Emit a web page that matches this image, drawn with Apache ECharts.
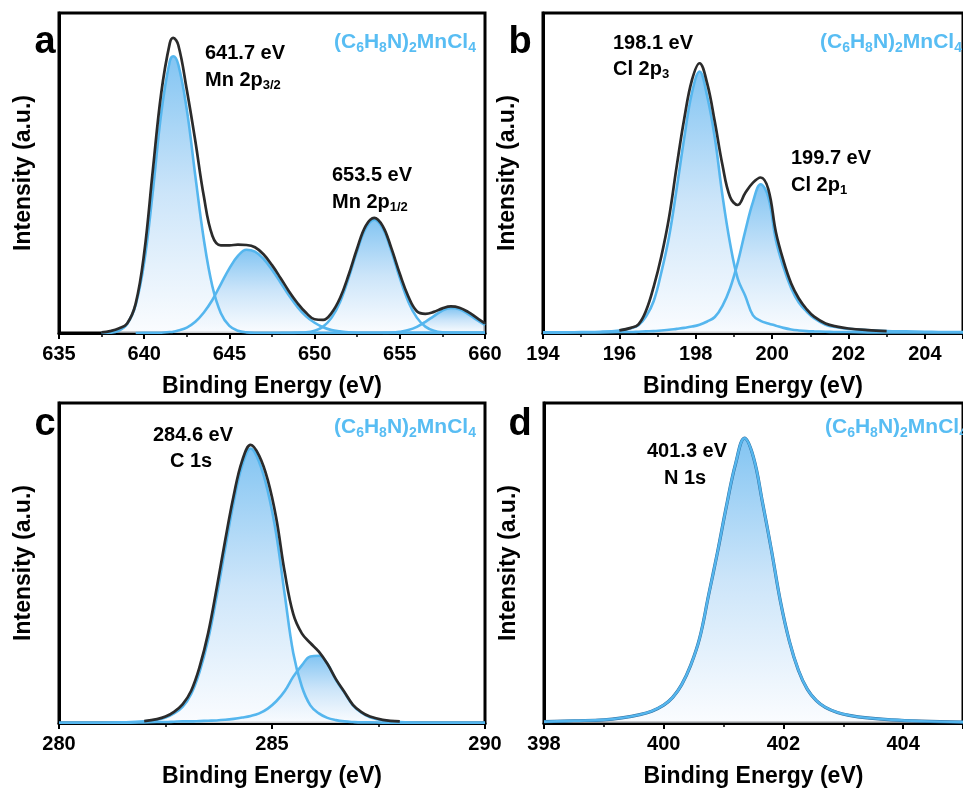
<!DOCTYPE html>
<html><head><meta charset="utf-8">
<script src="https://cdn.jsdelivr.net/npm/echarts@6/dist/echarts.min.js"></script>
<style>html,body{margin:0;padding:0;background:#fff}#c{width:963px;height:791px}</style>
</head><body><div id="c"></div>
<script>
// ---------- Panel a : Mn 2p ----------
const aX   = [637.5,638,638.5,639,639.5,640,640.5,641,641.5,641.7,642,642.5,643,643.5,644,644.5,645,645.5,646,646.5,647,647.5,648,648.5,649,649.5,650,650.5,651,651.5,652,652.5,653,653.5,654,654.5,655,655.5,656,656.5,657,657.5,658,658.5,659,659.5,660];
const aMn1 = [0,0.1,0.7,2.8,8.8,22.1,43.9,68.7,84.9,86.5,83.9,69.8,49.1,29.2,14.6,6.2,2.2,0.7,0.2,0.1,0.1,0.1,0.1,0.1,0.1,0.1,0.1,0.1,0.1,0.1,0.1,0.1,0.1,0.1,0.1,0.1,0.1,0.1,0.1,0.1,0.1,0.1,0.1,0.1,0.1,0.1,0.1];
const aSat1= [null,null,null,null,0,0.1,0.1,0.1,0.3,0.4,0.8,1.7,3.5,6.4,10.3,15.3,20.2,24.1,26.0,25.4,23.2,19.8,15.8,11.7,8.1,5.2,3.2,1.8,0.9,0.5,0.2,0.1,0.1,0.1,0.1,0.1,0.1,0.1,0.1,0.1,0.1,0.1,0.1,0.1,0.1,0.1,0.1];
const aMn2 = [null,null,null,null,null,null,null,null,null,null,null,null,null,null,null,null,null,null,null,null,null,null,0,0,0.1,0.2,0.7,2.0,4.8,9.8,17.2,25.7,32.7,35.4,32.7,25.7,17.2,9.8,4.8,2.0,0.7,0.2,0.1,0.1,0.1,0.1,0.1];
const aSat2= [null,null,null,null,null,null,null,null,null,null,null,null,null,null,null,null,null,null,null,null,null,null,null,null,null,null,null,null,null,null,null,null,null,null,0,0.1,0.4,0.9,1.9,3.5,5.3,7.0,7.8,7.4,6.0,4.2,2.5];
const aEnv = [0.2,0.6,1.4,3.0,9.2,25,50.5,75,90.5,92.2,90,76,60,42.7,30.4,27.4,27.4,27.6,27.5,26.8,24.6,21.2,17.2,13.0,9.3,6.3,4.3,4.1,6.3,11.0,18.2,26.5,33.5,36.0,33.4,26.6,18.5,11.4,6.8,6.0,6.6,7.7,8.3,7.9,6.6,4.8,3.0];

// ---------- Panel b : Cl 2p ----------
const bX   = [194,194.5,195,195.5,196,196.3,196.5,196.7,196.9,197.1,197.3,197.5,197.7,197.9,198.1,198.3,198.5,198.7,198.9,199.1,199.3,199.5,199.7,199.9,200.1,200.3,200.5,200.7,200.9,201.1,201.4,201.7,202,202.5,203,203.5,204,204.5,205];
const bCl3 = [0.2,0.2,0.3,0.4,0.8,1.5,2.4,5.2,10,19,30,45,61,75,81.7,74,61,43,28,17,11.5,5.5,3.8,3.0,2.3,1.6,1.1,0.8,0.6,0.5,0.4,0.3,0.3,0.2,0.2,0.2,0.2,0.2,0.2];
const bCl1 = [0.1,0.1,0.2,0.2,0.3,0.3,0.4,0.5,0.6,0.8,1.0,1.3,1.6,2.0,2.6,3.6,5.0,8.5,14,22,32,41,46.5,42.5,29,20.5,14,9.5,6.8,4.6,2.6,1.8,1.3,0.9,0.6,0.5,0.4,0.3,0.3];
const bEnv = [null,null,null,null,0.8,1.6,2.7,7.0,14.5,24,36,52,67,79,84.3,78,66,52.5,42.5,40,43.8,47,48.6,45,31.5,22.5,15.5,10.8,7.5,5.1,3.0,2.0,1.4,0.9,0.6,null,null,null,null];

// ---------- Panel c : C 1s ----------
const cX   = [280,281,281.5,282,282.3,282.5,282.7,282.9,283.1,283.3,283.5,283.7,283.9,284.1,284.3,284.5,284.7,284.9,285.1,285.3,285.5,285.7,285.9,286.1,286.3,286.5,286.7,286.9,287.1,287.3,287.6,288,288.5,289,290];
const cC1  = [0.1,0.1,0.2,0.5,1.0,1.7,3.0,5.0,9.0,16,26,39.5,54.5,69,80.5,85.8,81.5,72.5,59,40,21.8,11.4,5.5,3.0,1.6,0.9,0.5,0.3,0.2,0.2,0.1,0.1,0.1,0.1,0.1];
const cC2  = [0.1,0.1,0.1,0.2,0.3,0.3,0.4,0.5,0.5,0.6,0.7,0.8,1.0,1.3,1.7,2.2,3.0,4.5,6.8,10,14.5,18,20.8,21.0,18.5,13.5,9.5,5.5,3.2,1.8,0.8,0.3,0.1,0.1,0.1];
const cEnv = [null,null,null,0.6,1.2,2.0,3.5,5.8,10,17.5,28,42,57,71,82,86.9,83.5,76,64,47,34,28,25,22.3,18.5,13.7,9.7,5.7,3.4,2.0,1.0,0.5,null,null,null];

// ---------- Panel d : N 1s ----------
const dX   = [398,398.5,399,399.3,399.6,399.8,400,400.15,400.3,400.45,400.6,400.75,400.9,401.05,401.2,401.35,401.5,401.65,401.8,401.95,402.1,402.25,402.4,402.55,402.7,402.9,403.1,403.4,403.8,404.3,405];
const dN1  = [0.4,0.7,1.0,1.6,2.6,3.7,5.6,8.0,12.0,18.0,26.5,40,53.5,68,81,89,83,69,54,38,25.5,16.5,10.5,7.0,4.9,3.3,2.4,1.6,1.0,0.6,0.3];
const dEnv = [0.4,0.7,1.0,1.6,2.6,3.7,5.6,8.0,12.0,18.0,26.5,40,53.5,68,81,89,83,69,54,38,25.5,16.5,10.5,7.0,4.9,3.3,2.4,1.6,1.0,0.6,0.3];

// axis ranges / labels
const xRanges = [[635,660,5],[194,205,2],[280,290,5],[398,405,2]];
const showMax = [true,false,true,false];
const panelLetters = ['a','b','c','d'];
const formula = '{m|(C}{s|6}{m|H}{s|8}{m|N)}{s|2}{m|MnCl}{s|4}';

const FONT = '"Liberation Sans", Arial, Helvetica, sans-serif';
const BLUE = '#55b6ee';

function pairs(xs, ys){ const o=[]; for(let i=0;i<xs.length;i++){ if(ys[i]!==null) o.push([xs[i], ys[i]]); } return o; }
function grad(){
  return new echarts.graphic.LinearGradient(0,0,0,1,[
    {offset:0, color:'rgba(70,168,236,0.96)'},
    {offset:0.5, color:'rgba(175,214,246,0.9)'},
    {offset:1, color:'rgba(247,250,254,0.85)'}]);
}
function comp(i, xs, ys, lw){
  return {type:'line', xAxisIndex:i, yAxisIndex:i, data:pairs(xs,ys), smooth:0.4, symbol:'none', showSymbol:false,
    lineStyle:{color:BLUE, width:lw||2.6}, areaStyle:{color:grad(), origin:'start'}, silent:true};
}
function env(i, xs, ys, lw, col){
  return {type:'line', xAxisIndex:i, yAxisIndex:i, data:pairs(xs,ys), smooth:0.4, symbol:'none', showSymbol:false,
    lineStyle:{color:col||'#2b2b2b', width:lw||2.7}, silent:true};
}

const grids = [
  {left:59, top:13, width:426, height:320},
  {left:543, top:13, width:428, height:320},
  {left:59, top:403, width:426, height:320},
  {left:544, top:403, width:426, height:320}
].map(g => Object.assign(g, {show:true, borderColor:'#000', borderWidth:3, backgroundColor:'transparent', containLabel:false}));

const xAxes = xRanges.map((r,i)=>({
  type:'value', gridIndex:i, min:r[0], max:r[1], interval:r[2],
  name:'Binding Energy (eV)', nameLocation:'middle', nameGap:42,
  nameTextStyle:{fontFamily:FONT, fontSize:23, fontWeight:'bold', color:'#000'},
  axisLine:{show:true, onZero:false, lineStyle:{color:'#000', width:3}},
  axisTick:{show:true, inside:false, length:6, lineStyle:{color:'#000', width:2}},
  minorTick:{show:true, splitNumber:2, length:4, lineStyle:{color:'#000', width:1.5}},
  axisLabel:{fontFamily:FONT, fontSize:20, fontWeight:'bold', color:'#000', margin:11, showMaxLabel:showMax[i], showMinLabel:true},
  splitLine:{show:false}, minorSplitLine:{show:false}
}));
const yAxes = [0,1,2,3].map(i=>({
  type:'value', gridIndex:i, min:0, max:100,
  name:'Intensity (a.u.)', nameLocation:'middle', nameGap:24, nameRotate:90,
  nameTextStyle:{fontFamily:FONT, fontSize:23, fontWeight:'bold', color:'#000'},
  axisLine:{show:true, lineStyle:{color:'#000', width:3}},
  axisTick:{show:false}, axisLabel:{show:false}, splitLine:{show:false}
}));

const series = [
  comp(0,aX,aSat2), comp(0,aX,aSat1), comp(0,aX,aMn2), comp(0,aX,aMn1), env(0,aX,aEnv),
  comp(1,bX,bCl1), comp(1,bX,bCl3), env(1,bX,bEnv),
  comp(2,cX,cC2), comp(2,cX,cC1), env(2,cX,cEnv),
  env(3,dX,dEnv,3.2,'#2f6e9e'), comp(3,dX,dN1,2.4)
];

function txt(x,y,text,opt){
  return {type:'text', x:x, y:y, silent:true, z:100,
    style:Object.assign({text:text, fontFamily:FONT, fontSize:20, fontWeight:'bold', fill:'#000', align:'left', verticalAlign:'middle'}, opt||{})};
}
const subRich = {
  m:{fontFamily:FONT, fontSize:20, fontWeight:'bold', lineHeight:24, verticalAlign:'middle'},
  s:{fontFamily:FONT, fontSize:13, fontWeight:'bold', lineHeight:8, verticalAlign:'bottom'}
};
const fRich = {
  m:{fontFamily:FONT, fontSize:21, fontWeight:'bold', lineHeight:26, verticalAlign:'middle', color:'#58bdf3'},
  s:{fontFamily:FONT, fontSize:14, fontWeight:'bold', lineHeight:16, verticalAlign:'bottom', color:'#58bdf3'}
};
const letterPos = [[45,43],[520,43],[45,425],[520,425]];
const formulaPos = [[334,42],[820,42],[334,427],[825,427]];

const graphics = [];
letterPos.forEach((p,i)=>graphics.push(txt(p[0],p[1],panelLetters[i],{fontSize:38, align:'center'})));
formulaPos.forEach(p=>graphics.push(txt(p[0],p[1],formula,{rich:fRich, fill:'#58bdf3'})));
graphics.push(txt(205,53,'641.7 eV'));
graphics.push(txt(205,80,'{m|Mn 2p}{s|3/2}',{rich:subRich}));
graphics.push(txt(332,175,'653.5 eV'));
graphics.push(txt(332,202,'{m|Mn 2p}{s|1/2}',{rich:subRich}));
graphics.push(txt(613,43,'198.1 eV'));
graphics.push(txt(613,69,'{m|Cl 2p}{s|3}',{rich:subRich}));
graphics.push(txt(791,158,'199.7 eV'));
graphics.push(txt(791,185,'{m|Cl 2p}{s|1}',{rich:subRich}));
graphics.push(txt(193,435,'284.6 eV',{align:'center'}));
graphics.push(txt(191,461,'C 1s',{align:'center'}));
graphics.push(txt(687,451,'401.3 eV',{align:'center'}));
graphics.push(txt(685,478,'N 1s',{align:'center'}));

const chart = echarts.init(document.getElementById('c'), null, {renderer:'canvas', width:963, height:791});
chart.setOption({
  animation:false, backgroundColor:'#fff',
  grid:grids, xAxis:xAxes, yAxis:yAxes, series:series, graphic:graphics
});
</script></body></html>
